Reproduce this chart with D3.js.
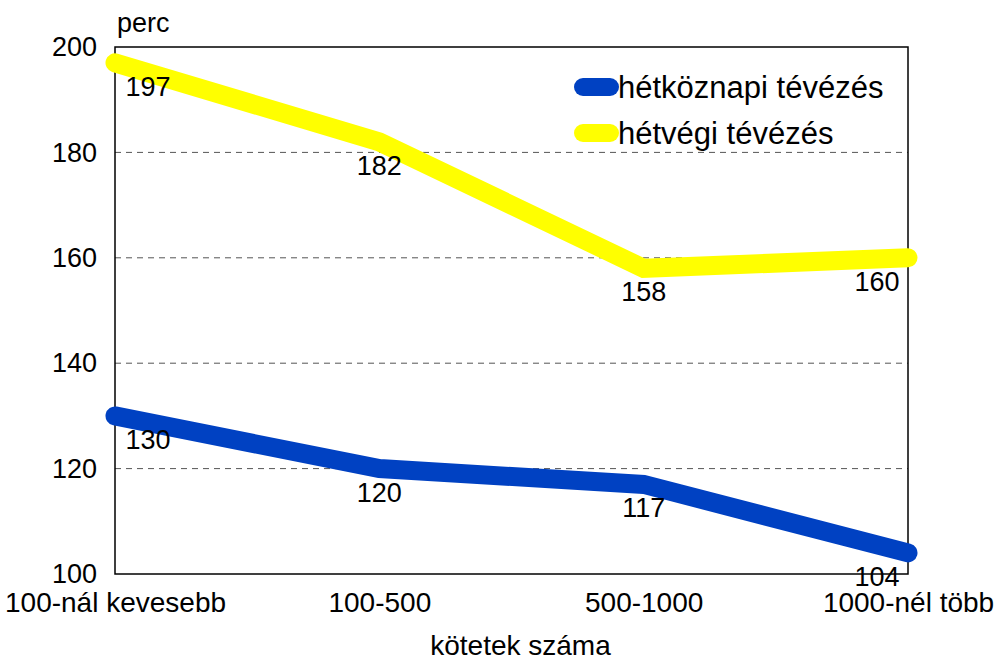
<!DOCTYPE html>
<html>
<head>
<meta charset="utf-8">
<script src="https://cdn.jsdelivr.net/npm/d3@7"></script>
<style>
  body { margin: 0; background: #fff; }
  text { font-family: "Liberation Sans", Arial, sans-serif; fill: #000; }
</style>
</head>
<body>
<div id="container"></div>
<script>
      // categories and values
      var categories = ["100-nál kevesebb", "100-500", "500-1000", "1000-nél több"];
      var weekday = [130, 120, 117, 104];
      var weekend = [197, 182, 158, 160];
      var seriesNames = ["hétköznapi tévézés", "hétvégi tévézés"];
      var yTicks = [100, 120, 140, 160, 180, 200];
      var yLabel = "perc";
      var xLabel = "kötetek száma";

      var w = 998;
      var h = 660;
      var pLeft = 115, pRight = 908, pTop = 47, pBottom = 574;

      var svg = d3.select("#container")
            .append("svg")
            .attr("width", w)
            .attr("height", h);

      var x = d3.scalePoint()
            .domain(categories)
            .range([pLeft, pRight]);

      var y = d3.scaleLinear()
            .domain([100, 200])
            .range([pBottom, pTop]);

      // dashed gridlines
      svg.selectAll("line.grid")
        .data(yTicks.filter(function(d) { return d > 100 && d < 200; }))
        .enter()
        .append("line")
        .attr("class", "grid")
        .attr("x1", pLeft)
        .attr("x2", pRight)
        .attr("y1", function(d) { return y(d); })
        .attr("y2", function(d) { return y(d); })
        .attr("stroke", "#555")
        .attr("stroke-width", 1)
        .attr("stroke-dasharray", "6,5");

      // frame
      svg.append("rect")
        .attr("x", pLeft)
        .attr("y", pTop)
        .attr("width", pRight - pLeft)
        .attr("height", pBottom - pTop)
        .attr("fill", "none")
        .attr("stroke", "#000")
        .attr("stroke-width", 1.5);

      // y axis labels
      var yAxis = d3.axisLeft(y).tickValues(yTicks).tickSize(0).tickPadding(18);
      var gy = svg.append("g")
        .attr("transform", "translate(" + pLeft + ",0)")
        .call(yAxis);
      gy.select(".domain").remove();
      gy.selectAll("text")
        .style("font-family", "'Liberation Sans', Arial, sans-serif")
        .style("font-size", "27px")
        .attr("fill", "#000");

      // x axis labels
      var xAxis = d3.axisBottom(x).tickSize(0).tickPadding(18);
      var gx = svg.append("g")
        .attr("transform", "translate(0," + pBottom + ")")
        .call(xAxis);
      gx.select(".domain").remove();
      gx.selectAll("text")
        .style("font-family", "'Liberation Sans', Arial, sans-serif")
        .style("font-size", "28px")
        .attr("fill", "#000");

      svg.append("text")
        .attr("x", pLeft + 2)
        .attr("y", 32)
        .style("font-size", "27px")
        .text(yLabel);

      svg.append("text")
        .attr("x", (pLeft + pRight) / 2 + 9)
        .attr("y", 655)
        .attr("text-anchor", "middle")
        .style("font-size", "28px")
        .text(xLabel);

      var series = [
        { name: seriesNames[0], values: weekday, color: "#0041C2" },
        { name: seriesNames[1], values: weekend, color: "#FFFF00" }
      ];

      var line = d3.line()
        .x(function(d, i) { return x(categories[i]); })
        .y(function(d) { return y(d); });

      svg.selectAll("path.series")
        .data(series)
        .enter()
        .append("path")
        .attr("class", "series")
        .attr("d", function(d) { return line(d.values); })
        .attr("fill", "none")
        .attr("stroke", function(d) { return d.color; })
        .attr("stroke-width", 19)
        .attr("stroke-linecap", "round")
        .attr("stroke-linejoin", "miter");

      // value labels
      series.forEach(function(s) {
        svg.selectAll(null)
          .data(s.values)
          .enter()
          .append("text")
          .attr("x", function(d, i) {
            var off = i == 0 ? 33 : (i == categories.length - 1 ? -31 : 0);
            return x(categories[i]) + off;
          })
          .attr("y", function(d) { return y(d) + 33; })
          .attr("text-anchor", "middle")
          .style("font-size", "27px")
          .text(function(d) { return d; });
      });

      // legend
      var legend = svg.selectAll("g.legend")
        .data(series)
        .enter()
        .append("g")
        .attr("class", "legend")
        .attr("transform", function(d, i) { return "translate(583," + (87 + i * 46) + ")"; });

      legend.append("line")
        .attr("x1", 0)
        .attr("x2", 27)
        .attr("stroke", function(d) { return d.color; })
        .attr("stroke-width", 18)
        .attr("stroke-linecap", "round");

      legend.append("text")
        .attr("x", 35)
        .attr("y", 11)
        .style("font-size", "31px")
        .text(function(d) { return d.name; });
</script>
</body>
</html>
